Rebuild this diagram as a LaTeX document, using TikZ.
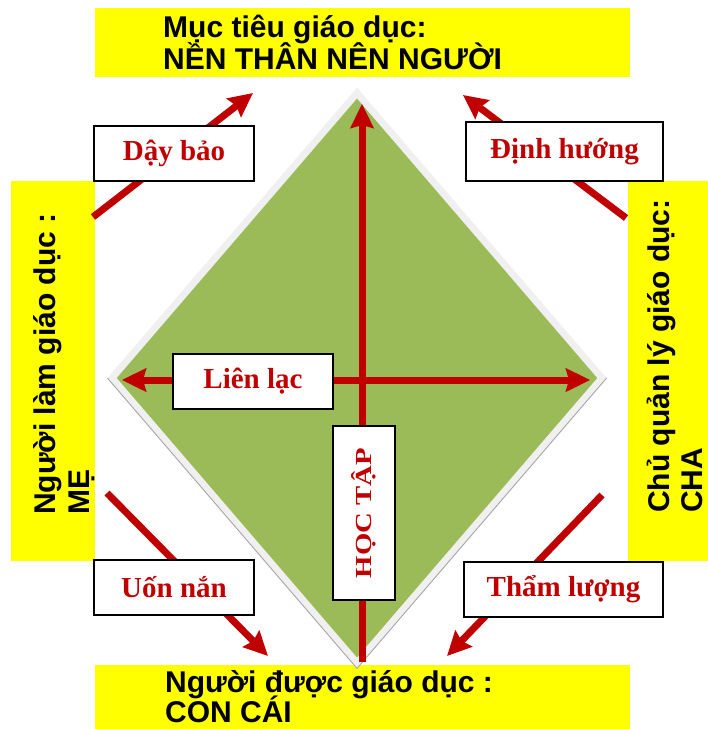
\documentclass[tikz,border=0pt]{standalone}
\usepackage{fontspec}
\setmainfont{Liberation Serif}
\newfontfamily\arialfont{Liberation Sans}
\usetikzlibrary{arrows.meta}
\definecolor{ylw}{HTML}{FFFF00}
\definecolor{dred}{HTML}{C00000}
\definecolor{dgreen}{HTML}{9BBB59}
\definecolor{lgrey}{HTML}{F0F0F0}
\begin{document}
\begin{tikzpicture}[x=1pt,y=-1pt,
  ybox/.style={fill=ylw, draw=none, inner sep=0pt, outer sep=0pt},
  ytext/.style={font=\arialfont\bfseries\fontsize{30}{32}\selectfont, inner sep=0pt, text=black},
  lbox/.style={draw=black, line width=1.5pt, fill=white, inner sep=0pt},
  ltext/.style={font=\bfseries\fontsize{29}{31}\selectfont, text=dred},
  redarrow/.style={draw=dred, line width=7pt, -{Stealth[length=24pt,width=23pt,inset=3pt]}},
  redarrows/.style={draw=dred, line width=7pt, {Stealth[length=24pt,width=23pt,inset=3pt]}-{Stealth[length=24pt,width=23pt,inset=3pt]}},
]
\useasboundingbox (0,0) rectangle (708,729);
% yellow boxes
\node[ybox, minimum width=535pt, minimum height=69pt] (goal) at (362.5,42.5) {};
\node[ybox, minimum width=84pt, minimum height=380pt] (mother) at (53,371) {};
\node[ybox, minimum width=80pt, minimum height=380pt] (father) at (668,371) {};
\node[ybox, minimum width=535pt, minimum height=64pt] (child) at (362.5,697) {};
\node[ytext, anchor=base west] (goal1) at (163,37) {Mục tiêu giáo dục:};
\node[ytext, anchor=base west] (goal2) at (163,69) {NỀN THÂN NÊN NGƯỜI};
\node[ytext, rotate=90, anchor=base west] (me1) at (55,515) {Người làm giáo dục :};
\node[ytext, rotate=90, anchor=base west] (me2) at (89,515) {MẸ};
\node[ytext, rotate=90, anchor=base west] (cha1) at (669,513) {Chủ quản lý giáo dục:};
\node[ytext, rotate=90, anchor=base west] (cha2) at (702,513) {CHA};
\node[ytext, anchor=base west] (con1) at (165,692) {Người được giáo dục :};
\node[ytext, anchor=base west] (con2) at (165,722) {CON CÁI};
% diamond
\coordinate (dT) at (357,93);
\coordinate (dL) at (112,378);
\coordinate (dR) at (602,378);
\coordinate (dB) at (357,663);
\filldraw[fill=dgreen, draw=lgrey, line width=7pt, line join=miter] (dT)--(dR)--(dB)--(dL)--cycle;
\coordinate (sL) at (107.4,378);
\coordinate (sB) at (357,668.4);
\coordinate (sR) at (606.6,378);
\draw[gray!70, line width=0.9pt] (sL) -- (sB) -- (sR);
% arrow end points
\coordinate (vbot) at (362,662);
\coordinate (vtop) at (362,104);
\coordinate (hl) at (122,380);
\coordinate (hr) at (590,380);
\coordinate (dayA) at (93,217);
\coordinate (dayB) at (253,93);
\coordinate (dinhA) at (626,218);
\coordinate (dinhB) at (463,95);
\coordinate (uonA) at (107,493);
\coordinate (uonB) at (268,656);
\coordinate (thamA) at (602,495);
\coordinate (thamB) at (447,656);
\draw[redarrow] (vbot) -- (vtop);
\draw[redarrows] (hl) -- (hr);
\draw[redarrow] (dayA) -- (dayB);
\draw[redarrow] (dinhA) -- (dinhB);
\draw[redarrow] (uonA) -- (uonB);
\draw[redarrow] (thamA) -- (thamB);
% label boxes
\node[lbox, ltext, minimum width=160pt, minimum height=55pt] (day) at (174,153.5) {Dậy bảo};
\node[lbox, ltext, minimum width=197pt, minimum height=59pt] (dinh) at (564.5,151.5) {Định hướng};
\node[lbox, ltext, minimum width=160pt, minimum height=55pt] (lien) at (253,381.5) {Liên lạc};
\node[lbox, ltext, minimum width=160pt, minimum height=55pt] (uon) at (174,587.5) {Uốn nắn};
\node[lbox, ltext, minimum width=199pt, minimum height=55pt] (tham) at (563.5,589.5) {Thẩm lượng};
\node[lbox, minimum width=62pt, minimum height=174pt] (hoc) at (364,513)
  {\rotatebox{90}{\scalebox{1.25}[1]{\bfseries\fontsize{23}{25}\selectfont\color{dred}HỌC TẬP}}};
\end{tikzpicture}
\end{document}
